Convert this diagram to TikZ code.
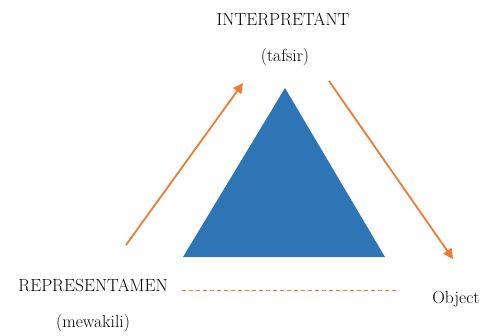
\documentclass[tikz,border=0pt]{standalone}
\usetikzlibrary{arrows.meta}
\definecolor{triblue}{HTML}{2E75B6}
\definecolor{arrorange}{HTML}{ED7D31}
\begin{document}
\begin{tikzpicture}[x=1pt,y=-1pt,
  lbl/.style={inner sep=0pt,font=\fontsize{17.5}{20}\selectfont,text=black},
  arr/.style={draw=arrorange,line width=1.8pt,-{Triangle[length=10pt,width=10pt]}},
  dashline/.style={draw=arrorange,line width=0.8pt,dash pattern=on 4pt off 3pt}]
\useasboundingbox (0,0) rectangle (482,335);
\fill[triblue] (285,88) -- (385,257) -- (183,257) -- cycle;
\node[lbl] (interp) at (283,19) {INTERPRETANT};
\node[lbl] (tafsir) at (285,57) {(tafsir)};
\node[lbl] (repr) at (93,285) {REPRESENTAMEN};
\node[lbl] (mew) at (93,323) {(mewakili)};
\node[lbl] (obj) at (456,299) {Object};
\coordinate (a1s) at (126,245);
\coordinate (a1e) at (243,83);
\coordinate (a2s) at (329,81);
\coordinate (a2e) at (453,259);
\coordinate (ds) at (182,290);
\coordinate (de) at (399,290);
\draw[arr] (a1s) -- (a1e);
\draw[arr] (a2s) -- (a2e);
\draw[dashline] (ds) -- (de);
\end{tikzpicture}
\end{document}
